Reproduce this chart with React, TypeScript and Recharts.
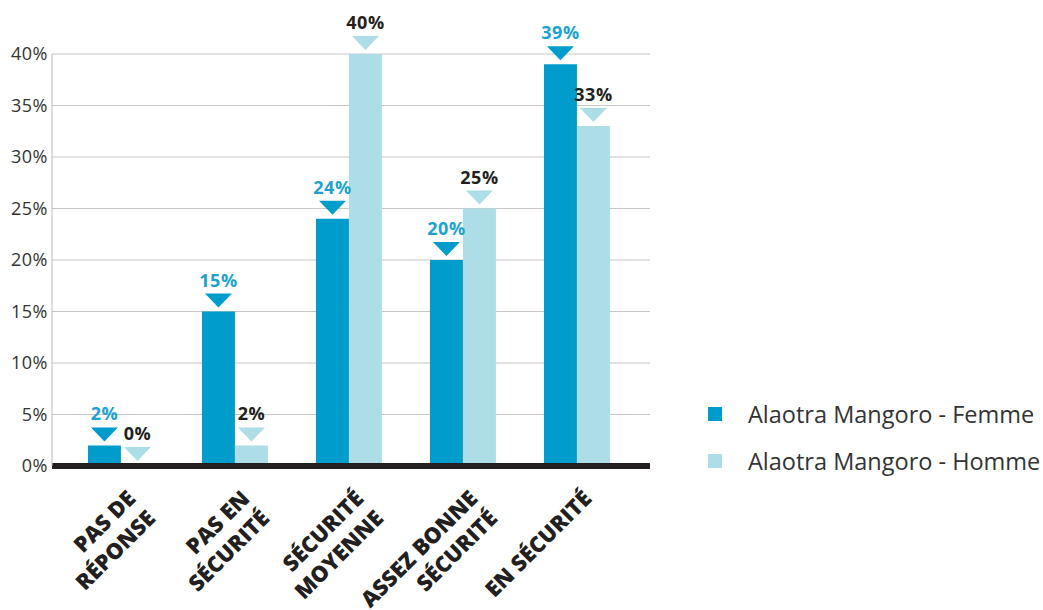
import { Bar, BarChart, CartesianGrid, LabelList, Legend, ReferenceLine, XAxis, YAxis } from 'recharts';

const categories = ['PAS DE\nRÉPONSE', 'PAS EN\nSÉCURITÉ', 'SÉCURITÉ\nMOYENNE', 'ASSEZ BONNE\nSÉCURITÉ', 'EN SÉCURITÉ'];
const femme = [2, 15, 24, 20, 39];
const homme = [0, 2, 40, 25, 33];
const yTicks = [0, 5, 10, 15, 20, 25, 30, 35, 40];
const seriesNames = ['Alaotra Mangoro - Femme', 'Alaotra Mangoro - Homme'];

const FEMME = '#009ccc';
const HOMME = '#addee8';

const data = categories.map((name, i) => ({ name, femme: femme[i], homme: homme[i] }));

const makeLabel = (fill: string, textColor: string) => (props: any) => {
    const { x, y, width, value } = props;
    const cx = Number(x) + Number(width) / 2;
    const tip = Number(y) - 4;
    return (
        <g>
            <path d={`M${cx - 13.5},${tip - 14}L${cx + 13.5},${tip - 14}L${cx},${tip}Z`} fill={fill} />
            <text
                x={cx}
                y={tip - 21}
                textAnchor="middle"
                fill={textColor}
                fontFamily="'Open Sans', sans-serif"
                fontWeight={700}
                fontSize={18}
                letterSpacing={0.5}
            >
                {value}%
            </text>
        </g>
    );
};

const CategoryTick = (props: any) => {
    const { x, y, payload } = props;
    const lines = String(payload.value).split('\n');
    return (
        <g transform={`translate(${x + 16},${y + 34})`}>
            <text
                transform="rotate(-45)"
                textAnchor="end"
                fill="#231f20"
                fontFamily="'Open Sans', sans-serif"
                fontWeight={800}
                fontSize={22}
            >
                {lines.map((l, i) => (
                    <tspan key={i} x={0} dy={i === 0 ? 0 : 28}>
                        {l}
                    </tspan>
                ))}
            </text>
        </g>
    );
};

const renderLegend = () => (
    <div style={{ fontFamily: "'Open Sans', sans-serif", fontSize: 23.5, color: '#333', whiteSpace: 'nowrap' }}>
        {seriesNames.map((n, i) => (
            <div key={n} style={{ display: 'flex', alignItems: 'center', height: 47 }}>
                <span
                    style={{
                        width: 14,
                        height: 14,
                        flexShrink: 0,
                        background: i === 0 ? FEMME : HOMME,
                        marginRight: 26,
                        display: 'inline-block',
                    }}
                />
                {n}
            </div>
        ))}
    </div>
);

export default function App() {
    return (
        <div style={{ position: 'absolute', left: 0, top: 0, background: '#fff' }}>
            <BarChart
                width={1043}
                height={610}
                data={data}
                margin={{ top: 54, right: 393, bottom: 0, left: 0 }}
                barGap={0}
                barCategoryGap="21%"
            >
                <CartesianGrid vertical={false} stroke="#c6c6c6" />
                <XAxis
                    dataKey="name"
                    height={144}
                    axisLine={false}
                    tickLine={false}
                    tickSize={0}
                    tickMargin={0}
                    interval={0}
                    padding={{ left: 12, right: 16 }}
                    tick={<CategoryTick />}
                />
                <YAxis
                    width={52}
                    domain={[0, 40]}
                    ticks={yTicks}
                    tickFormatter={(v) => `${v}%`}
                    axisLine={{ stroke: '#bbb' }}
                    tickLine={false}
                    tickSize={0}
                    tickMargin={4}
                    tick={{ fill: '#333', fontSize: 18, letterSpacing: 0.5, fontFamily: "'Open Sans', sans-serif" }}
                />
                <Legend
                    content={renderLegend}
                    layout="horizontal"
                    verticalAlign="middle"
                    align="center"
                    wrapperStyle={{ left: 708, top: 390, width: 335 }}
                />
                <Bar dataKey="femme" fill={FEMME} minPointSize={1} isAnimationActive={false}>
                    <LabelList dataKey="femme" content={makeLabel(FEMME, '#1ba3d0')} />
                </Bar>
                <Bar dataKey="homme" fill={HOMME} minPointSize={1} isAnimationActive={false}>
                    <LabelList dataKey="homme" content={makeLabel(HOMME, '#231f20')} />
                </Bar>
                <ReferenceLine y={0} stroke="#231f20" strokeWidth={6} />
            </BarChart>
        </div>
    );
}
